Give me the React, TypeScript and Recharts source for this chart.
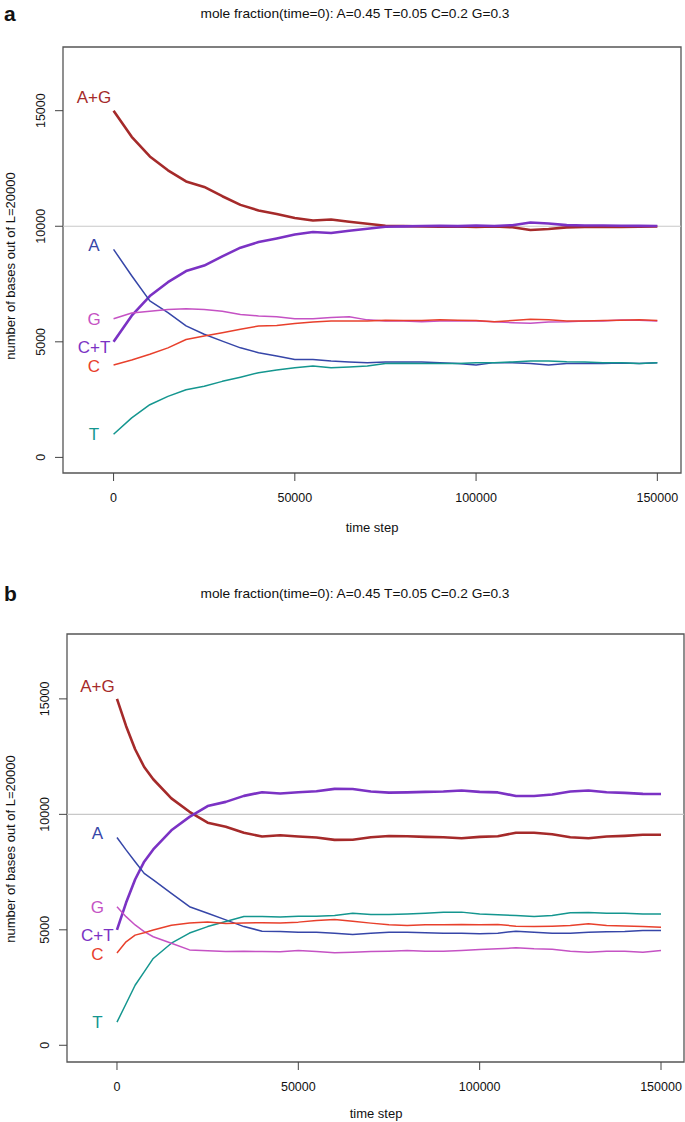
import { LineChart, Line, XAxis, YAxis, ReferenceLine, ReferenceDot, ReferenceArea } from 'recharts';

const FONT = "'Liberation Sans', Arial, Helvetica, sans-serif";
const TITLE = 'mole fraction(time=0): A=0.45 T=0.05 C=0.2 G=0.3';

// ---- panel a ----
const timeA = [
  0, 5000, 10000, 15000, 20000, 25000, 30000, 35000, 40000, 45000, 50000, 55000, 60000, 65000, 70000, 75000,
  80000, 85000, 90000, 95000, 100000, 105000, 110000, 115000, 120000, 125000, 130000, 135000, 140000, 145000, 150000
];
const agA = [15000, 13870, 13020, 12420, 11940, 11700, 11300, 10925, 10685, 10527, 10360, 10250, 10290, 10195, 10110, 10020, 10005, 9990, 9985, 9995, 9970, 9990, 9955, 9840, 9880, 9950, 9965, 9970, 9975, 9985, 9990];
const ctA = [5000, 6130, 6980, 7580, 8060, 8300, 8700, 9075, 9315, 9473, 9640, 9750, 9710, 9805, 9890, 9980, 9995, 10010, 10015, 10005, 10030, 10010, 10045, 10160, 10120, 10050, 10035, 10030, 10025, 10015, 10010];
const aA = [9000, 7860, 6770, 6260, 5690, 5330, 5030, 4740, 4530, 4390, 4240, 4240, 4170, 4130, 4100, 4130, 4130, 4130, 4100, 4060, 4000, 4100, 4100, 4060, 4000, 4060, 4060, 4060, 4080, 4060, 4100];
const tA = [1000, 1710, 2280, 2640, 2930, 3080, 3290, 3470, 3665, 3780, 3880, 3950, 3880, 3910, 3950, 4060, 4070, 4060, 4060, 4060, 4100, 4100, 4130, 4170, 4170, 4140, 4130, 4100, 4090, 4060, 4100];
const gA = [6000, 6250, 6320, 6400, 6430, 6400, 6320, 6180, 6120, 6090, 6000, 6000, 6050, 6080, 5950, 5900, 5900, 5870, 5900, 5910, 5900, 5870, 5830, 5800, 5860, 5870, 5900, 5900, 5945, 5930, 5900];
const cA = [4000, 4210, 4460, 4740, 5100, 5250, 5390, 5540, 5685, 5710, 5790, 5860, 5900, 5900, 5900, 5930, 5920, 5920, 5950, 5930, 5920, 5870, 5920, 5975, 5950, 5900, 5900, 5920, 5930, 5950, 5920];

// ---- panel b ----
const timeB = [
  0, 2500, 5000, 7500, 10000, 15000, 20000, 25000, 30000, 35000, 40000, 45000, 50000, 55000, 60000, 65000, 70000,
  75000, 80000, 85000, 90000, 95000, 100000, 105000, 110000, 115000, 120000, 125000, 130000, 135000, 140000, 145000, 150000
];
const agB = [15000, 13830, 12820, 12050, 11520, 10690, 10110, 9640, 9460, 9200, 9040, 9095, 9040, 9000, 8895, 8900, 9010, 9060, 9050, 9025, 9010, 8965, 9025, 9050, 9205, 9205, 9140, 9010, 8965, 9040, 9070, 9115, 9120];
const ctB = [5000, 6170, 7180, 7950, 8480, 9310, 9890, 10360, 10540, 10800, 10960, 10905, 10960, 11000, 11105, 11100, 10990, 10940, 10950, 10975, 10990, 11035, 10975, 10950, 10795, 10795, 10860, 10990, 11035, 10960, 10930, 10885, 10880];
const aB = [9000, 8460, 7950, 7445, 7160, 6580, 6000, 5720, 5430, 5140, 4942, 4930, 4900, 4900, 4855, 4800, 4855, 4900, 4900, 4870, 4855, 4855, 4827, 4855, 4942, 4900, 4855, 4855, 4900, 4915, 4930, 4970, 4970];
const tB = [1000, 1800, 2600, 3180, 3760, 4420, 4860, 5140, 5360, 5580, 5578, 5550, 5590, 5590, 5620, 5720, 5665, 5665, 5690, 5720, 5766, 5766, 5690, 5650, 5620, 5578, 5620, 5737, 5750, 5720, 5720, 5680, 5690];
const gB = [6000, 5570, 5210, 4920, 4700, 4420, 4130, 4090, 4060, 4070, 4060, 4045, 4105, 4060, 4003, 4030, 4060, 4075, 4105, 4075, 4075, 4105, 4147, 4176, 4220, 4176, 4160, 4075, 4030, 4075, 4075, 4030, 4105];
const cB = [4000, 4480, 4770, 4870, 4990, 5200, 5300, 5340, 5270, 5300, 5303, 5290, 5333, 5405, 5450, 5376, 5290, 5217, 5188, 5217, 5217, 5230, 5217, 5230, 5159, 5145, 5159, 5188, 5260, 5188, 5170, 5145, 5116];

const xTicks = [0, 50000, 100000, 150000];
const yTicks = [0, 5000, 10000, 15000];

const seriesKeys = ['AG', 'CT', 'A', 'T', 'G', 'C'];
const seriesNames = ['A+G', 'C+T', 'A', 'T', 'G', 'C'];
const seriesColors = ['#a52a2a', '#7b32c4', '#3646a8', '#14968f', '#c552c4', '#e8402c'];
const seriesWidths = [2.6, 2.6, 1.5, 1.5, 1.5, 1.5];

// where the in-plot series names sit (data units)
const labelX = -5400;
const labelY = [15550, 4750, 9150, 985, 5955, 3940];

function buildRows(time: number[], cols: number[][]) {
  return time.map((t, i) => {
    const row: Record<string, number> = { t };
    seriesKeys.forEach((k, j) => {
      row[k] = cols[j][i];
    });
    return row;
  });
}

const YTick = ({ x, y, payload }: any) => (
  <text
    transform={`translate(${x},${y}) rotate(-90)`}
    textAnchor="middle"
    fontSize={12.5}
    fill="#111"
    fontFamily={FONT}
  >
    {payload.value}
  </text>
);

interface PanelProps {
  letter: string;
  rows: Record<string, number>[];
  xDomain: [number, number];
  yDomain: [number, number];
  margin: { top: number; right: number; left: number; bottom: number };
  height: number;
  yTitleY: number;
  xTitleY: number;
  xTitleX: number;
}

function Panel({ letter, rows, xDomain, yDomain, margin, height, yTitleY, xTitleY, xTitleX }: PanelProps) {
  return (
    <div style={{ position: 'relative', width: 685, height }}>
      <LineChart width={685} height={height} data={rows} margin={margin}>
        <XAxis
          dataKey="t"
          type="number"
          domain={xDomain}
          ticks={xTicks}
          interval={0}
          allowDataOverflow
          axisLine={false}
          tickLine={{ stroke: '#444' }}
          tickSize={8}
          tickMargin={12}
          height={30}
          tick={{ fontSize: 12.5, fill: '#111', fontFamily: FONT }}
        />
        <YAxis
          type="number"
          domain={yDomain}
          ticks={yTicks}
          interval={0}
          allowDataOverflow
          axisLine={false}
          tickLine={{ stroke: '#444' }}
          tickSize={8}
          tickMargin={10}
          width={50}
          tick={<YTick />}
        />
        <ReferenceArea
          x1={xDomain[0]}
          x2={xDomain[1]}
          y1={yDomain[0]}
          y2={yDomain[1]}
          fill="none"
          fillOpacity={0}
          stroke="#555"
          strokeWidth={1.3}
          ifOverflow="visible"
        />
        <ReferenceLine y={10000} stroke="#c8c8c8" strokeWidth={1.2} />
        {seriesKeys.map((k, j) => (
          <Line
            key={k}
            dataKey={k}
            type="linear"
            stroke={seriesColors[j]}
            strokeWidth={seriesWidths[j]}
            strokeLinejoin="round"
            dot={false}
            isAnimationActive={false}
          />
        ))}
        {seriesKeys.map((k, j) => (
          <ReferenceDot
            key={'lbl' + k}
            x={labelX}
            y={labelY[j]}
            r={0}
            ifOverflow="visible"
            shape={(p: any) => (
              <text
                x={p.cx}
                y={p.cy}
                textAnchor="middle"
                dominantBaseline="central"
                fontSize={17}
                fill={seriesColors[j]}
                fontFamily={FONT}
              >
                {seriesNames[j]}
              </text>
            )}
          />
        ))}
      </LineChart>
      <svg
        width={685}
        height={height}
        style={{ position: 'absolute', left: 0, top: 0, pointerEvents: 'none' }}
      >
        <text x={4} y={21} fontSize={21} fontWeight="bold" fill="#111" fontFamily={FONT}>
          {letter}
        </text>
        <text
          x={355}
          y={18}
          textAnchor="middle"
          fontSize={13}
          fill="#111"
          fontFamily={FONT}
          textLength={309}
          lengthAdjust="spacingAndGlyphs"
        >
          {TITLE}
        </text>
        <text
          transform={`translate(15,${yTitleY}) rotate(-90)`}
          textAnchor="middle"
          fontSize={13}
          fill="#111"
          fontFamily={FONT}
        >
          number of bases out of L=20000
        </text>
        <text x={xTitleX} y={xTitleY} textAnchor="middle" fontSize={13} fill="#111" fontFamily={FONT}>
          time step
        </text>
      </svg>
    </div>
  );
}

export default function App() {
  const rowsA = buildRows(timeA, [agA, ctA, aA, tA, gA, cA]);
  const rowsB = buildRows(timeB, [agB, ctB, aB, tB, gB, cB]);
  return (
    <div style={{ position: 'absolute', left: 0, top: 0, width: 685, height: 1122, background: '#fff' }}>
      <div style={{ position: 'absolute', left: 0, top: 0 }}>
        <Panel
          letter="a"
          rows={rowsA}
          xDomain={[-13950, 156530]}
          yDomain={[-675, 17755]}
          margin={{ top: 47, right: 4, left: 13, bottom: 42 }}
          height={545}
          yTitleY={266}
          xTitleX={372}
          xTitleY={532}
        />
      </div>
      <div style={{ position: 'absolute', left: 0, top: 580 }}>
        <Panel
          letter="b"
          rows={rowsB}
          xDomain={[-13780, 156340]}
          yDomain={[-724, 17810]}
          margin={{ top: 54, right: 1, left: 17, bottom: 40 }}
          height={552}
          yTitleY={269}
          xTitleX={376}
          xTitleY={538}
        />
      </div>
    </div>
  );
}
